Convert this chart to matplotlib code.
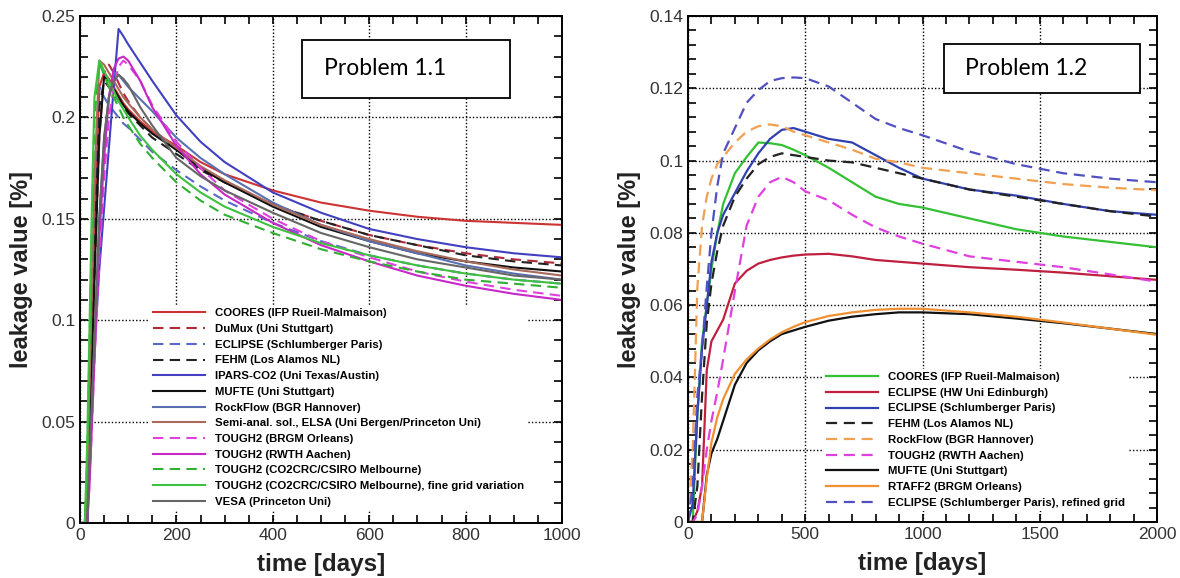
import matplotlib
matplotlib.use("Agg")
import matplotlib.pyplot as plt
from matplotlib.patches import Rectangle
from matplotlib.ticker import MultipleLocator, FormatStrFormatter

plt.rcParams["font.family"] = ["Liberation Sans", "DejaVu Sans"]

# ---- Problem 1.1 data (time in days, leakage value in %)
t1 = [0, 10, 15, 20, 25, 30, 40, 50, 60, 70, 80, 90, 100, 125, 150, 200,
      250, 300, 400, 500, 600, 700, 800, 900, 1000]

p1_coores = [0, 0, 0, 0.05, 0.10, 0.145, 0.215, 0.222, 0.219, 0.215, 0.211, 0.207, 0.204,
             0.198, 0.193, 0.186, 0.178, 0.172, 0.164, 0.158, 0.154, 0.151, 0.149, 0.148, 0.147]
p1_dumux = [0, 0, 0, 0.04, 0.08, 0.12, 0.19, 0.222, 0.226, 0.222, 0.217, 0.212, 0.208,
            0.200, 0.194, 0.184, 0.175, 0.168, 0.157, 0.149, 0.142, 0.137, 0.133, 0.130, 0.128]
p1_eclipse = [0, 0, 0.02, 0.06, 0.10, 0.14, 0.215, 0.210, 0.206, 0.203, 0.200, 0.197, 0.195,
              0.189, 0.183, 0.174, 0.166, 0.159, 0.148, 0.139, 0.132, 0.127, 0.123, 0.120, 0.118]
p1_fehm = [0, 0, 0.01, 0.05, 0.09, 0.13, 0.205, 0.218, 0.215, 0.212, 0.208, 0.205, 0.202,
           0.196, 0.190, 0.182, 0.174, 0.168, 0.157, 0.149, 0.142, 0.137, 0.132, 0.129, 0.127]
p1_ipars = [0, 0, 0, 0.03, 0.06, 0.085, 0.125, 0.155, 0.185, 0.215, 0.2436, 0.240, 0.236,
            0.227, 0.218, 0.201, 0.188, 0.178, 0.163, 0.153, 0.145, 0.140, 0.136, 0.133, 0.131]
p1_mufte = [0, 0, 0, 0.04, 0.08, 0.12, 0.19, 0.220, 0.218, 0.214, 0.210, 0.206, 0.203,
            0.197, 0.192, 0.184, 0.175, 0.168, 0.156, 0.146, 0.139, 0.133, 0.129, 0.126, 0.124]
p1_rockflow = [0, 0, 0, 0.03, 0.06, 0.09, 0.15, 0.19, 0.21, 0.222, 0.221, 0.218, 0.215,
               0.209, 0.203, 0.190, 0.180, 0.172, 0.158, 0.147, 0.139, 0.133, 0.127, 0.123, 0.120]
p1_elsa = [0, 0, 0.02, 0.07, 0.12, 0.17, 0.228, 0.226, 0.222, 0.218, 0.214, 0.210, 0.207,
           0.200, 0.194, 0.185, 0.176, 0.169, 0.157, 0.147, 0.140, 0.134, 0.129, 0.125, 0.122]
p1_brgm = [0, 0, 0, 0.02, 0.05, 0.08, 0.13, 0.17, 0.20, 0.215, 0.225, 0.228, 0.226,
           0.218, 0.206, 0.188, 0.175, 0.164, 0.150, 0.139, 0.131, 0.124, 0.119, 0.115, 0.112]
p1_rwth = [0, 0, 0, 0.02, 0.05, 0.08, 0.14, 0.18, 0.21, 0.224, 0.229, 0.230, 0.228,
           0.218, 0.205, 0.186, 0.172, 0.162, 0.148, 0.137, 0.129, 0.122, 0.117, 0.113, 0.110]
p1_co2crc = [0, 0, 0.03, 0.09, 0.15, 0.20, 0.227, 0.221, 0.215, 0.210, 0.205, 0.200, 0.196,
             0.187, 0.180, 0.168, 0.159, 0.152, 0.143, 0.135, 0.129, 0.124, 0.120, 0.118, 0.116]
p1_co2crc_fine = [0, 0, 0.04, 0.10, 0.16, 0.21, 0.228, 0.223, 0.218, 0.213, 0.208, 0.204, 0.200,
                  0.191, 0.184, 0.172, 0.163, 0.156, 0.146, 0.138, 0.132, 0.127, 0.123, 0.120, 0.118]
p1_vesa = [0, 0, 0, 0.03, 0.06, 0.09, 0.15, 0.19, 0.21, 0.218, 0.221, 0.219, 0.216,
           0.205, 0.196, 0.180, 0.171, 0.164, 0.153, 0.143, 0.136, 0.130, 0.126, 0.122, 0.120]

# ---- Problem 1.2 data
t2 = [0, 20, 40, 60, 80, 100, 125, 150, 200, 250, 300, 350, 400, 450, 500, 600,
      700, 800, 900, 1000, 1200, 1400, 1600, 1800, 2000]

p2_coores = [0, 0, 0.030, 0.050, 0.060, 0.070, 0.080, 0.088, 0.0965, 0.101, 0.105, 0.1048, 0.1043,
             0.103, 0.1015, 0.098, 0.094, 0.090, 0.088, 0.087, 0.084, 0.081, 0.079, 0.0775, 0.076]
p2_eclipse_hw = [0, 0, 0.003, 0.010, 0.042, 0.050, 0.053, 0.056, 0.066, 0.0695, 0.0715, 0.0725, 0.0732,
                 0.0737, 0.074, 0.0742, 0.0735, 0.0725, 0.072, 0.0715, 0.0705, 0.0698, 0.069, 0.068, 0.067]
p2_eclipse = [0, 0.005, 0.030, 0.048, 0.060, 0.072, 0.080, 0.085, 0.091, 0.097, 0.102, 0.106, 0.1085,
              0.109, 0.108, 0.106, 0.105, 0.1015, 0.098, 0.095, 0.092, 0.0903, 0.088, 0.086, 0.085]
p2_fehm = [0, 0, 0.010, 0.035, 0.055, 0.066, 0.075, 0.082, 0.090, 0.095, 0.099, 0.101, 0.102,
           0.1015, 0.101, 0.100, 0.0995, 0.098, 0.0965, 0.095, 0.092, 0.090, 0.088, 0.086, 0.0845]
p2_rockflow = [0, 0.020, 0.065, 0.082, 0.090, 0.095, 0.099, 0.101, 0.105, 0.108, 0.1095, 0.110, 0.1095,
               0.108, 0.107, 0.105, 0.103, 0.1005, 0.0995, 0.098, 0.0965, 0.095, 0.0935, 0.0925, 0.0918]
p2_rwth = [0, 0, 0.002, 0.010, 0.020, 0.028, 0.036, 0.045, 0.064, 0.082, 0.090, 0.094, 0.0955,
           0.094, 0.0915, 0.089, 0.085, 0.0815, 0.079, 0.077, 0.0735, 0.072, 0.0705, 0.0685, 0.0665]
p2_mufte = [0, 0, 0, 0, 0.013, 0.019, 0.023, 0.028, 0.038, 0.044, 0.0475, 0.050, 0.052,
            0.053, 0.054, 0.0557, 0.0568, 0.0575, 0.058, 0.058, 0.0575, 0.0563, 0.055, 0.0535, 0.052]
p2_rtaff2 = [0, 0, 0, 0, 0.012, 0.022, 0.029, 0.034, 0.041, 0.045, 0.048, 0.0505, 0.0525,
             0.054, 0.0553, 0.057, 0.058, 0.0587, 0.059, 0.059, 0.058, 0.0568, 0.0552, 0.0535, 0.0518]
p2_eclipse_ref = [0, 0.010, 0.035, 0.048, 0.065, 0.080, 0.093, 0.102, 0.109, 0.116, 0.1195, 0.122, 0.1228,
                  0.123, 0.1228, 0.1205, 0.116, 0.1115, 0.109, 0.107, 0.1025, 0.099, 0.0965, 0.095, 0.094]

DASH = (0, (5, 3))

series1 = [
    (p1_coores, "COORES (IFP Rueil-Malmaison)", "#cc3333", "-"),
    (p1_dumux, "DuMux (Uni Stuttgart)", "#b02a3a", DASH),
    (p1_eclipse, "ECLIPSE (Schlumberger Paris)", "#5a68c8", DASH),
    (p1_fehm, "FEHM (Los Alamos NL)", "#222222", DASH),
    (p1_ipars, "IPARS-CO2 (Uni Texas/Austin)", "#4040c0", "-"),
    (p1_mufte, "MUFTE (Uni Stuttgart)", "#111111", "-"),
    (p1_rockflow, "RockFlow (BGR Hannover)", "#5a70b0", "-"),
    (p1_elsa, "Semi-anal. sol., ELSA (Uni Bergen/Princeton Uni)", "#a86a5a", "-"),
    (p1_brgm, "TOUGH2 (BRGM Orleans)", "#e040e0", DASH),
    (p1_rwth, "TOUGH2 (RWTH Aachen)", "#c828c8", "-"),
    (p1_co2crc, "TOUGH2 (CO2CRC/CSIRO Melbourne)", "#30b030", DASH),
    (p1_co2crc_fine, "TOUGH2 (CO2CRC/CSIRO Melbourne), fine grid variation", "#40c040", "-"),
    (p1_vesa, "VESA (Princeton Uni)", "#666666", "-"),
]

series2 = [
    (p2_coores, "COORES (IFP Rueil-Malmaison)", "#33c033", "-"),
    (p2_eclipse_hw, "ECLIPSE (HW Uni Edinburgh)", "#c02040", "-"),
    (p2_eclipse, "ECLIPSE (Schlumberger Paris)", "#3040b0", "-"),
    (p2_fehm, "FEHM (Los Alamos NL)", "#222222", DASH),
    (p2_rockflow, "RockFlow (BGR Hannover)", "#f0a050", DASH),
    (p2_rwth, "TOUGH2 (RWTH Aachen)", "#e040e0", DASH),
    (p2_mufte, "MUFTE (Uni Stuttgart)", "#111111", "-"),
    (p2_rtaff2, "RTAFF2 (BRGM Orleans)", "#f09030", "-"),
    (p2_eclipse_ref, "ECLIPSE (Schlumberger Paris), refined grid", "#5050c0", DASH),
]

fig = plt.figure(figsize=(11.8, 5.78), dpi=100)
ax1 = fig.add_axes([80 / 1180, 55 / 578, 482 / 1180, 507 / 578])
ax2 = fig.add_axes([688 / 1180, 56 / 578, 469 / 1180, 506 / 578])

legfont = {"family": ["Liberation Sans Narrow", "Liberation Sans"], "weight": "bold", "size": 8.2}


def style_axis(ax, xmax, ymax, xmaj, xmin, ymaj, ymin):
    ax.set_xlim(0, xmax)
    ax.set_ylim(0, ymax)
    ax.xaxis.set_major_locator(MultipleLocator(xmaj))
    ax.xaxis.set_minor_locator(MultipleLocator(xmin))
    ax.yaxis.set_major_locator(MultipleLocator(ymaj))
    ax.yaxis.set_minor_locator(MultipleLocator(ymin))
    ax.yaxis.set_major_formatter(FormatStrFormatter("%g"))
    ax.tick_params(which="both", direction="in", top=True, right=True,
                   length=6, width=1.2, labelsize=12.5, labelcolor="#333333")
    ax.grid(True, which="major", color="black", linestyle=(0, (1, 1.5)), linewidth=1.0)
    for s in ax.spines.values():
        s.set_linewidth(1.4)
    ax.set_xlabel("time [days]", fontsize=17.5, fontweight="bold", color="#222222", labelpad=7)
    ax.set_ylabel("leakage value [%]", fontsize=17, fontweight="bold", color="#222222", labelpad=6)


for vals, lab, col, ls in series1:
    ax1.plot(t1, vals, color=col, linestyle=ls, linewidth=1.5, label=lab)
for vals, lab, col, ls in series2:
    ax2.plot(t2, vals, color=col, linestyle=ls, linewidth=1.6, label=lab)

style_axis(ax1, 1000, 0.25, 200, 50, 0.05, 0.01)
style_axis(ax2, 2000, 0.14, 500, 100, 0.02, 0.004)

for ax, anchor in [(ax1, (0.145, 0.43)), (ax2, (0.288, 0.303))]:
    leg = ax.legend(loc="upper left", bbox_to_anchor=anchor, prop=legfont,
                    frameon=True, fancybox=False, framealpha=1, edgecolor="none",
                    handlelength=4.5, handletextpad=0.9, labelspacing=0.5,
                    borderpad=0.3, borderaxespad=0)
    leg.get_frame().set_linewidth(0)

# title boxes
for ax, box, txt in [(ax1, (0.461, 0.838, 0.431, 0.115), "Problem 1.1"),
                     (ax2, (0.546, 0.848, 0.418, 0.097), "Problem 1.2")]:
    ax.add_patch(Rectangle((box[0], box[1]), box[2], box[3], transform=ax.transAxes,
                           facecolor="white", edgecolor="black", linewidth=1.3, zorder=6))
    ax.text(box[0] + 0.045, box[1] + box[3] / 2, txt, transform=ax.transAxes,
            fontsize=16.5, family="Lato", va="center", ha="left", zorder=7)

fig.savefig("out.png", dpi=100)
